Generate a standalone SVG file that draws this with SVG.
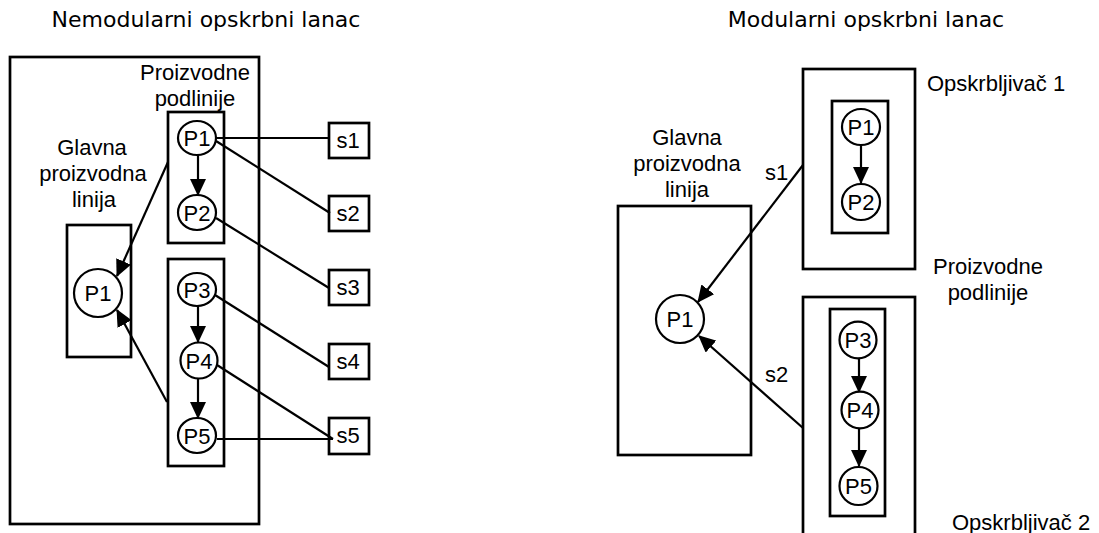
<svg xmlns="http://www.w3.org/2000/svg" width="1099" height="533" viewBox="0 0 1099 533">
<style>
.box{fill:none;stroke:#000;stroke-width:2.7}
.nd{fill:#fff;stroke:#000;stroke-width:2.2}
.ln{fill:none;stroke:#000;stroke-width:2.2}
.ar{fill:none;stroke:#000;stroke-width:2.2;marker-end:url(#ah)}
.t{font-family:"Liberation Sans",Arial,sans-serif;font-size:22px;fill:#000}
.c{text-anchor:middle}
.pl{font-family:"Liberation Sans",Arial,sans-serif;font-size:22px;fill:#000;text-anchor:middle}
.ti{font-family:"DejaVu Sans",Verdana,sans-serif;font-size:22px;fill:#000;text-anchor:middle}
</style>
<defs>
<marker id="ah" markerUnits="userSpaceOnUse" markerWidth="17" markerHeight="16" refX="16" refY="8" orient="auto">
<path d="M0,0 L17,8 L0,16 z" fill="#000"/>
</marker>
</defs>
<rect width="1099" height="533" fill="#fff"/>

<text class="ti" x="206" y="27">Nemodularni opskrbni lanac</text>
<text class="ti" x="866" y="27">Modularni opskrbni lanac</text>

<!-- LEFT: non-modular -->
<g id="left-outer">
<rect class="box" x="10" y="57" width="249" height="467"/>
</g>
<g id="left-main-line">
<rect class="box" x="67" y="225" width="64" height="132"/>
<text class="t c" x="92" y="155">Glavna</text>
<text class="t c" x="93" y="181">proizvodna</text>
<text class="t c" x="94" y="207">linija</text>
</g>
<g id="left-sub1">
<rect class="box" x="168" y="112" width="56" height="131"/>
<text class="t c" x="195" y="80">Proizvodne</text>
<text class="t c" x="195" y="106">podlinije</text>
</g>
<g id="left-sub2">
<rect class="box" x="168" y="259" width="56" height="207"/>
</g>

<g id="connectors">
<line class="ln" x1="216" y1="138" x2="329" y2="138"/>
<line class="ln" x1="216" y1="141" x2="330" y2="213"/>
<line class="ln" x1="216" y1="218" x2="329" y2="288"/>
<line class="ln" x1="215" y1="295" x2="329" y2="367"/>
<line class="ln" x1="217" y1="365" x2="333" y2="439"/>
<line class="ln" x1="217" y1="439" x2="333" y2="439"/>
<line class="ar" x1="198" y1="155" x2="198" y2="195"/>
<line class="ar" x1="198" y1="306" x2="198" y2="342"/>
<line class="ar" x1="198" y1="378" x2="198" y2="418"/>
<line class="ar" x1="168" y1="162" x2="117" y2="276"/>
<line class="ar" x1="167" y1="402" x2="117" y2="310"/>
<line class="ar" x1="861" y1="145" x2="861" y2="183"/>
<line class="ar" x1="859" y1="358" x2="859" y2="392"/>
<line class="ar" x1="859" y1="428" x2="859" y2="466"/>
<line class="ar" x1="803" y1="165" x2="698" y2="302"/>
<line class="ar" x1="803" y1="428" x2="699" y2="336"/>
</g>

<g id="left-P1-main"><circle class="nd" cx="98" cy="293" r="24"/><text class="pl" x="98" y="301">P1</text></g>
<g id="left-P1"><ellipse class="nd" cx="197" cy="138" rx="19" ry="17"/><text class="pl" x="197" y="146">P1</text></g>
<g id="left-P2"><ellipse class="nd" cx="197" cy="212.5" rx="19" ry="17.5"/><text class="pl" x="197" y="220.5">P2</text></g>
<g id="left-P3"><ellipse class="nd" cx="197" cy="289.5" rx="19" ry="16.5"/><text class="pl" x="197" y="297.5">P3</text></g>
<g id="left-P4"><ellipse class="nd" cx="199" cy="360.5" rx="18.5" ry="18"/><text class="pl" x="199" y="368.5">P4</text></g>
<g id="left-P5"><ellipse class="nd" cx="197" cy="435.5" rx="19" ry="17.5"/><text class="pl" x="197" y="443.5">P5</text></g>

<g id="s1"><rect class="box" x="329" y="123" width="40" height="35"/><text class="t c" x="348" y="148">s1</text></g>
<g id="s2"><rect class="box" x="329" y="196" width="40" height="35"/><text class="t c" x="348" y="221">s2</text></g>
<g id="s3"><rect class="box" x="329" y="270" width="40" height="35"/><text class="t c" x="348" y="295">s3</text></g>
<g id="s4"><rect class="box" x="329" y="344" width="40" height="35"/><text class="t c" x="348" y="369">s4</text></g>
<g id="s5"><rect class="box" x="329" y="418" width="40" height="36"/><text class="t c" x="348" y="443">s5</text></g>

<!-- RIGHT: modular -->
<g id="right-main-line">
<rect class="box" x="618" y="206" width="133" height="249"/>
<text class="t c" x="687" y="145">Glavna</text>
<text class="t c" x="687" y="171">proizvodna</text>
<text class="t c" x="687" y="197">linija</text>
</g>
<g id="right-P1-main"><circle class="nd" cx="680" cy="319" r="24"/><text class="pl" x="680" y="327">P1</text></g>

<g id="supplier1">
<rect class="box" x="803" y="69" width="112" height="200"/>
<rect class="box" x="832" y="101" width="56" height="132"/>
<text class="t" x="927" y="91">Opskrbljivač 1</text>
</g>
<g id="right-P1"><ellipse class="nd" cx="861" cy="127" rx="19" ry="18"/><text class="pl" x="861" y="135">P1</text></g>
<g id="right-P2"><ellipse class="nd" cx="861" cy="202" rx="19" ry="18"/><text class="pl" x="861" y="210">P2</text></g>

<g id="sub-label">
<text class="t c" x="988" y="274">Proizvodne</text>
<text class="t c" x="988" y="300">podlinije</text>
</g>

<g id="supplier2">
<rect class="box" x="803" y="297" width="112" height="260"/>
<rect class="box" x="830" y="309" width="55" height="207"/>
<text class="t" x="952" y="530">Opskrbljivač 2</text>
</g>
<g id="right-P3"><ellipse class="nd" cx="858" cy="340" rx="18.5" ry="18.3"/><text class="pl" x="858" y="348">P3</text></g>
<g id="right-P4"><ellipse class="nd" cx="860" cy="410" rx="18.5" ry="18.3"/><text class="pl" x="860" y="418">P4</text></g>
<g id="right-P5"><ellipse class="nd" cx="858.5" cy="486" rx="19" ry="19"/><text class="pl" x="858.5" y="494">P5</text></g>

<g id="edge-labels">
<text class="t" x="765" y="180">s1</text>
<text class="t" x="765" y="382">s2</text>
</g>
</svg>
